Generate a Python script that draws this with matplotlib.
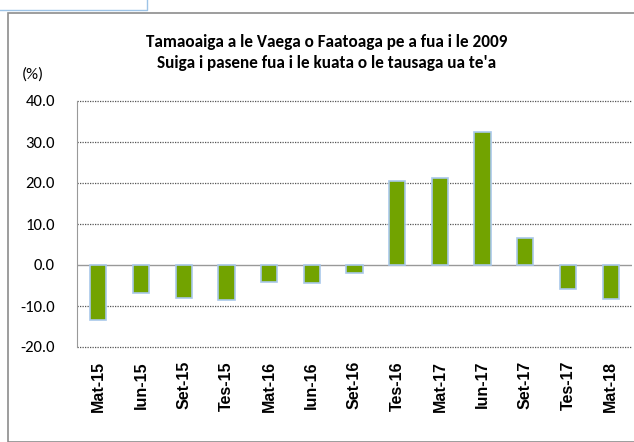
import matplotlib.pyplot as plt
from matplotlib.patches import Rectangle
from matplotlib.lines import Line2D

quarters = ['Mat-15', 'Iun-15', 'Set-15', 'Tes-15', 'Mat-16', 'Iun-16', 'Set-16',
            'Tes-16', 'Mat-17', 'Iun-17', 'Set-17', 'Tes-17', 'Mat-18']
growth = [-13.4, -6.9, -8.1, -8.5, -4.1, -4.4, -1.9, 20.6, 21.1, 32.4, 6.7, -5.9, -8.4]
yticks = [-20, -10, 0, 10, 20, 30, 40]

W, H = 634, 442
fig = plt.figure(figsize=(W / 100, H / 100), dpi=100)

# outer chart frame and the small box at the top left
fig.patches.append(Rectangle((8 / W, 0), 1, 1 - 13 / H, transform=fig.transFigure,
                             fill=False, edgecolor='#8c8c8c', linewidth=1.2))
fig.lines.append(Line2D([0, 147 / W, 147 / W], [1 - 10 / H, 1 - 10 / H, 1], transform=fig.transFigure,
                        color='#9dc3e6', linewidth=1))

left, right = 77 / W, 632 / W
bottom, top = 1 - 347 / H, 1 - 101 / H
ax = fig.add_axes([left, bottom, right - left, top - bottom])

x = range(len(quarters))
ax.bar(x, growth, width=0.38, color='#72a300', edgecolor='#a9c8ea', linewidth=1.2, zorder=3)

ax.set_ylim(-20, 40)
ax.set_xlim(-0.5, len(quarters) - 0.5)
ax.set_yticks(yticks)
ax.set_yticklabels([f'{v:.1f}' for v in yticks], fontsize=12, family='Carlito')
ax.set_xticks(list(x))
ax.set_xticklabels(quarters, rotation=90, fontsize=11.5, fontweight='bold', family='Liberation Sans')
ax.tick_params(length=0, pad=10)
ax.tick_params(axis='y', pad=16)

for v in yticks:
    if v != 0:
        ax.axhline(v, color='#555555', linestyle=(0, (1, 1)), linewidth=0.9, zorder=1, clip_on=False)
ax.axhline(0, color='#999999', linewidth=1, zorder=2)

for s in ['top', 'right', 'bottom']:
    ax.spines[s].set_visible(False)
ax.spines['left'].set_color('#999999')

fig.text(327 / W, 1 - 42 / H, 'Tamaoaiga a le Vaega o Faatoaga pe a fua i le 2009',
         ha='center', va='center', fontsize=12.3, fontweight='bold', family='Carlito')
fig.text(327 / W, 1 - 63 / H, "Suiga i pasene fua i le kuata o le tausaga ua te'a",
         ha='center', va='center', fontsize=12.3, fontweight='bold', family='Carlito')
fig.text(33 / W, 1 - 75 / H, '(%)', ha='center', va='center', fontsize=12, family='Carlito')

fig.savefig('out.png', dpi=100)
